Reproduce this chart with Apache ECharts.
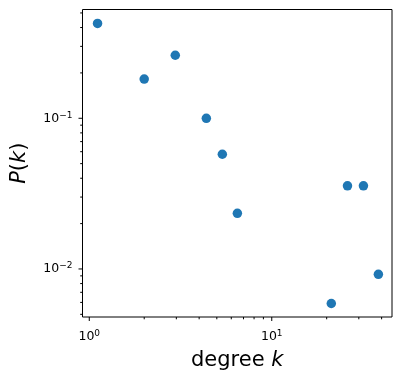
<!DOCTYPE html>
<html>
<head>
<meta charset="utf-8">
<script src="https://cdn.jsdelivr.net/npm/echarts@6/dist/echarts.min.js"></script>
<style>
  html, body { margin: 0; padding: 0; background: #fff; }
  #chart { width: 402px; height: 388px; }
</style>
</head>
<body>
<div id="chart"></div>
<script>
// degree distribution
var degree = [1.11, 2.0, 2.96, 4.38, 5.36, 6.48, 21.2, 26.0, 31.8, 38.4];
var prob = [0.426, 0.182, 0.262, 0.100, 0.0577, 0.0234, 0.0059, 0.0356, 0.0356, 0.00922];

// axis ranges and ticks
var xRange = [0.918, 45.6];
var yRange = [0.0048, 0.527];
var xMajor = [1, 10];
var xMinor = [2, 3, 4, 5, 6, 7, 8, 9, 20, 30, 40];
var yMajor = [0.01, 0.1];
var yMinor = [0.005, 0.006, 0.007, 0.008, 0.009,
              0.02, 0.03, 0.04, 0.05, 0.06, 0.07, 0.08, 0.09,
              0.2, 0.3, 0.4, 0.5];

var FONT = 'DejaVu Sans';

function sciLabel(v) {
  var e = Math.log10(v);
  var r = Math.round(e);
  if (Math.abs(e - r) > 1e-6) return '';
  var exp = r < 0 ? '\u2212' + (-r) : String(r);
  return '{b|10}{s|' + exp + '}';
}

var labelRich = {
  b: { fontFamily: FONT, fontSize: 12.5, color: '#000', lineHeight: 15 },
  s: { fontFamily: FONT, fontSize: 9, color: '#000', verticalAlign: 'top', lineHeight: 9 }
};

var nameStyle = {
  fontFamily: FONT, fontSize: 21, color: '#000',
  rich: { i: { fontFamily: FONT, fontSize: 21, fontStyle: 'italic', color: '#000' } }
};

function tickData(list, len, onX) {
  return list.map(function (v) {
    return onX ? [v, yRange[0], len] : [xRange[0], v, len];
  });
}

function tickSeries(data, onX) {
  return {
    type: 'custom',
    silent: true,
    clip: false,
    z: 5,
    data: data,
    renderItem: function (params, api) {
      var p = api.coord([api.value(0), api.value(1)]);
      var len = api.value(2);
      var shape = onX
        ? { x1: p[0], y1: p[1], x2: p[0], y2: p[1] + len }
        : { x1: p[0], y1: p[1], x2: p[0] - len, y2: p[1] };
      return { type: 'line', shape: shape, style: { stroke: '#000', lineWidth: 1 } };
    }
  };
}

var chart = echarts.init(document.getElementById('chart'));

chart.setOption({
  animation: false,
  grid: {
    left: 82.5, right: 10, top: 9.5, bottom: 71,
    show: true, borderColor: '#000', borderWidth: 1, backgroundColor: '#fff'
  },
  xAxis: {
    type: 'log', logBase: 10, min: xRange[0], max: xRange[1],
    name: 'degree {i|k}', nameLocation: 'middle', nameGap: 33,
    nameTextStyle: nameStyle,
    axisLine: { show: false },
    axisTick: { show: false },
    splitLine: { show: false },
    axisLabel: { formatter: sciLabel, rich: labelRich, margin: 12 }
  },
  yAxis: {
    type: 'log', logBase: 10, min: yRange[0], max: yRange[1],
    name: '{i|P}({i|k})', nameLocation: 'middle', nameGap: 52,
    nameTextStyle: nameStyle,
    axisLine: { show: false },
    axisTick: { show: false },
    splitLine: { show: false },
    axisLabel: { formatter: sciLabel, rich: labelRich, margin: 10 }
  },
  series: [
    {
      type: 'scatter',
      data: degree.map(function (d, i) { return [d, prob[i]]; }),
      symbolSize: 9.5,
      itemStyle: { color: '#1f77b4', opacity: 1 },
      z: 3
    },
    tickSeries(tickData(xMajor, 4, true), true),
    tickSeries(tickData(xMinor, 2.3, true), true),
    tickSeries(tickData(yMajor, 4, false), false),
    tickSeries(tickData(yMinor, 2.3, false), false)
  ]
});
</script>
</body>
</html>
